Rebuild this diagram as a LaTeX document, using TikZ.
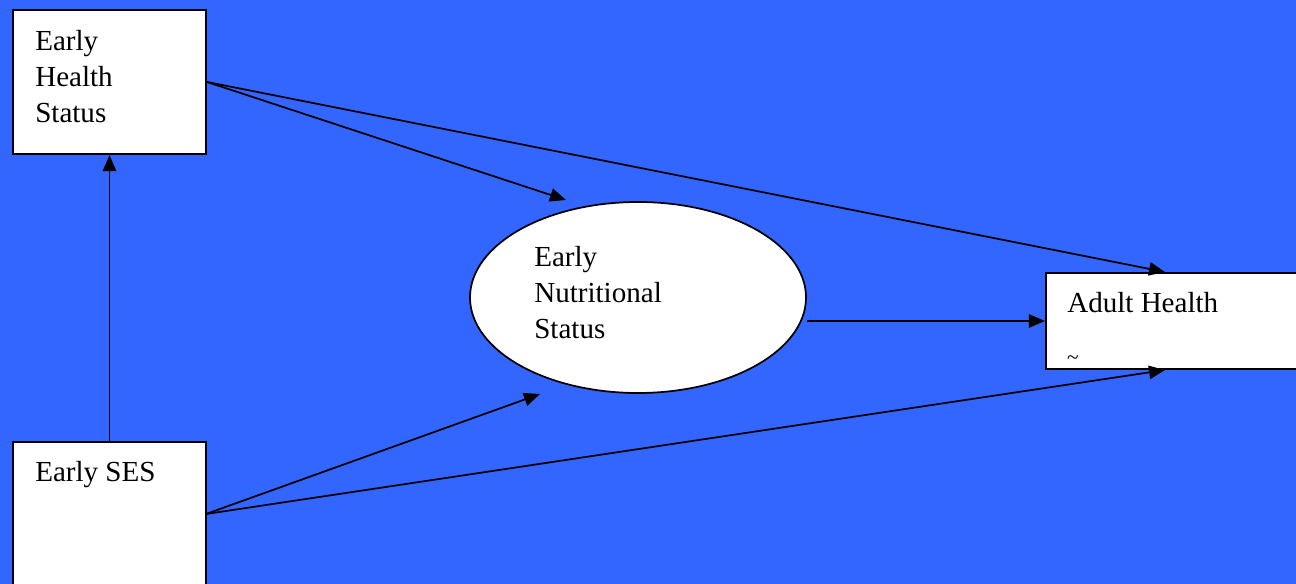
\documentclass[tikz,border=0pt]{standalone}
\usepackage{fontspec}
\setmainfont{Liberation Serif}
\usetikzlibrary{arrows.meta,shapes.geometric}
\definecolor{bgblue}{HTML}{3366FF}
\tikzset{
  box/.style={draw=black, fill=white, line width=1.6pt, rectangle, inner sep=0pt},
  oval/.style={draw=black, fill=white, line width=1.3pt, ellipse, inner sep=0pt},
  lbl/.style={anchor=north west, inner sep=0pt, align=left, font=\fontsize{21.8}{27}\selectfont},
  arr/.style={draw=black, line width=1.3pt, -{Triangle[length=12pt,width=10pt]}}
}
\begin{document}
\begin{tikzpicture}[x=0.75pt,y=-0.75pt]
\useasboundingbox (0,0) rectangle (1296,584);
\fill[bgblue] (0,0) rectangle (1296,584);
% nodes
\node[box, minimum width=144.75pt, minimum height=108pt] (eh) at (109.5,82) {};
\node[box, minimum width=144.75pt, minimum height=120pt] (ses) at (109.5,522) {};
\node[oval, minimum width=252pt, minimum height=143.25pt] (en) at (638,297.5) {};
\node[box, minimum width=198pt, minimum height=72pt] (ah) at (1178,321) {};
% labels
\node[lbl] (ehl) at (35,30) {Early\\Health\\Status};
\node[lbl] (sesl) at (35,461) {Early SES};
\node[lbl] (enl) at (534,246) {Early\\Nutritional\\Status};
\node[lbl] (ahl) at (1067,292) {Adult Health};
\node[inner sep=0pt, font=\fontsize{16}{18}\selectfont] (tl) at (1073,360) {\textasciitilde};
% connector ends
\coordinate (s2) at (206,514);
\coordinate (t1) at (566,200);
\coordinate (t2) at (1165,272);
\coordinate (t3) at (540,394);
\coordinate (t4) at (1165,370);
% connectors
\draw[arr] (ses.north) -- (eh.south);
\draw[arr] (eh.east) -- (t1);
\draw[arr] (eh.east) -- (t2);
\draw[arr] (en.east |- ah.west) -- (ah.west);
\draw[arr] (s2) -- (t3);
\draw[arr] (s2) -- (t4);
\end{tikzpicture}
\end{document}
